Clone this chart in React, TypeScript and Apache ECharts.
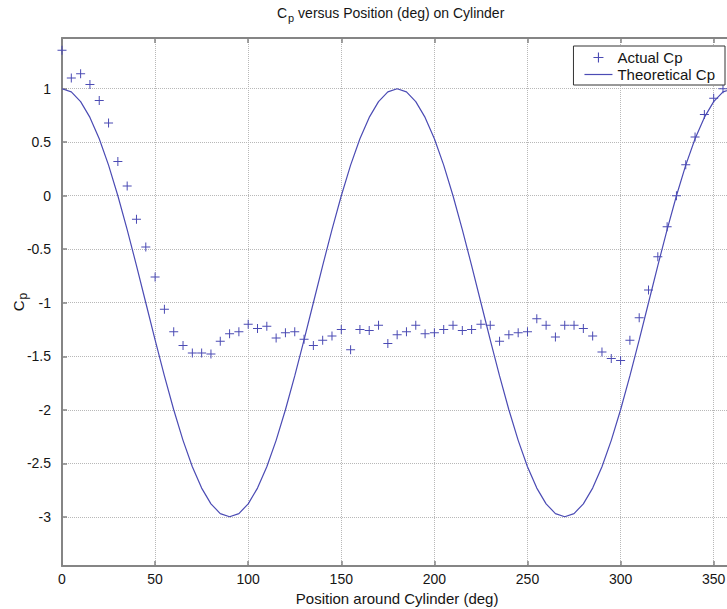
import { useEffect, useRef } from "react";
import * as echarts from "echarts";

// Position around the cylinder (deg)
const anglesDeg = [
  0, 5, 10, 15, 20, 25, 30, 35, 40, 45, 50, 55, 60, 65, 70, 75, 80, 85, 90,
  95, 100, 105, 110, 115, 120, 125, 130, 135, 140, 145, 150, 155, 160, 165, 170, 175, 180,
  185, 190, 195, 200, 205, 210, 215, 220, 225, 230, 235, 240, 245, 250, 255, 260, 265, 270,
  275, 280, 285, 290, 295, 300, 305, 310, 315, 320, 325, 330, 335, 340, 345, 350, 355, 360,
];

const actualCp = [
  1.36, 1.1, 1.14, 1.04, 0.89, 0.68, 0.32, 0.09, -0.22, -0.48, -0.76, -1.06, -1.27, -1.4,
  -1.47, -1.47, -1.48, -1.36, -1.29, -1.27, -1.2, -1.24, -1.22, -1.33, -1.28, -1.27, -1.34,
  -1.4, -1.35, -1.31, -1.25, -1.44, -1.25, -1.26, -1.21, -1.38, -1.3, -1.27, -1.21, -1.29,
  -1.28, -1.25, -1.21, -1.26, -1.25, -1.2, -1.21, -1.36, -1.3, -1.28, -1.27, -1.15, -1.21,
  -1.32, -1.21, -1.21, -1.24, -1.31, -1.46, -1.52, -1.54, -1.35, -1.14, -0.88, -0.57, -0.29,
  0.0, 0.29, 0.55, 0.76, 0.91, 1.0,
];

// Theoretical pressure coefficient
const theoreticalCp = [
  1, 0.97, 0.879, 0.732, 0.532, 0.286, 0, -0.316, -0.653, -1, -1.347, -1.684, -2, -2.286,
  -2.532, -2.732, -2.879, -2.97, -3, -2.97, -2.879, -2.732, -2.532, -2.286, -2, -1.684,
  -1.347, -1, -0.653, -0.316, 0, 0.286, 0.532, 0.732, 0.879, 0.97, 1,
  0.97, 0.879, 0.732, 0.532, 0.286, 0, -0.316, -0.653, -1, -1.347, -1.684, -2, -2.286,
  -2.532, -2.732, -2.879, -2.97, -3, -2.97, -2.879, -2.732, -2.532, -2.286, -2, -1.684,
  -1.347, -1, -0.653, -0.316, 0, 0.286, 0.532, 0.732, 0.879, 0.97, 1,
];

const seriesNames = ["Actual Cp", "Theoretical Cp"];

const FONT = "'Liberation Sans', Arial, Helvetica, sans-serif";
const BLUE = "#4b4bb4";
const AXIS_GRAY = "#858585";
const GRID_GRAY = "#b8b8b8";
const TEXT = "#151515";
const PLUS = "path://M4,0H5V4H9V5H5V9H4V5H0V4H4Z";
const LINE_ICON = "path://M0,0H28V1.2H0Z";

function subRich(size: number, subSize: number, pad: number) {
  return {
    c: {
      fontSize: size,
      fontFamily: FONT,
      fontWeight: "normal",
      color: TEXT,
      verticalAlign: "top",
      lineHeight: size + 2,
    },
    s: {
      fontSize: subSize,
      fontFamily: FONT,
      fontWeight: "normal",
      color: TEXT,
      verticalAlign: "top",
      lineHeight: subSize + 2,
      padding: [pad, 0, 0, 1],
    },
  };
}

export default function App() {
  const ref = useRef<HTMLDivElement>(null);
  useEffect(() => {
    const chart = echarts.init(ref.current!, null, { renderer: "svg" });
    const option: any = {
      animation: false,
      backgroundColor: "#ffffff",
      textStyle: { fontFamily: FONT },
      title: {
        text: "{c|C}{s|p}{c| versus Position (deg) on Cylinder}",
        left: 277,
        top: 6,
        padding: 0,
        textStyle: { fontWeight: "normal", rich: subRich(14, 11, 6) },
      },
      legend: {
        data: [
          { name: seriesNames[0], icon: PLUS },
          { name: seriesNames[1], icon: LINE_ICON },
        ],
        orient: "vertical",
        right: 2,
        top: 46,
        itemWidth: 28,
        itemHeight: 10,
        itemGap: 0,
        padding: [3, 10, 2, 11],
        backgroundColor: "#ffffff",
        borderColor: "#333333",
        borderWidth: 1,
        borderRadius: 0,
        selectedMode: false,
        textStyle: { fontSize: 15, color: TEXT, lineHeight: 17, fontFamily: FONT },
      },
      grid: { left: 62, top: 38, right: -5.3, bottom: 43, outerBoundsMode: "none" },
      xAxis: [
        {
          type: "value",
          position: "bottom",
          min: 0,
          max: 360,
          interval: 50,
          name: "Position around Cylinder (deg)",
          nameLocation: "middle",
          nameGap: 25,
          nameMoveOverlap: false,
          nameTextStyle: { fontSize: 15, color: TEXT, fontFamily: FONT },
          axisLine: { show: true, onZero: false, lineStyle: { color: AXIS_GRAY, width: 2 } },
          axisTick: { show: true, inside: true, length: 5, lineStyle: { color: AXIS_GRAY, width: 1.5 } },
          axisLabel: { fontSize: 14, color: TEXT, margin: 6, showMaxLabel: false, fontFamily: FONT },
          splitLine: { show: true, lineStyle: { type: "dotted", color: GRID_GRAY, width: 1 } },
        },
        {
          type: "value",
          position: "top",
          min: 0,
          max: 360,
          interval: 50,
          axisLine: { show: true, onZero: false, lineStyle: { color: AXIS_GRAY, width: 2 } },
          axisTick: { show: true, inside: true, length: 5, lineStyle: { color: AXIS_GRAY, width: 1.5 } },
          axisLabel: { show: false },
          splitLine: { show: false },
        },
      ],
      yAxis: {
        type: "value",
        position: "left",
        min: -3.46,
        max: 1.474,
        splitNumber: 10,
        minInterval: 0.5,
        maxInterval: 0.5,
        name: "{c|C}{s|p}",
        nameLocation: "middle",
        nameRotate: 90,
        nameGap: 34,
        nameMoveOverlap: false,
        nameTextStyle: { rich: subRich(15, 12, 6) },
        axisLine: { show: true, onZero: false, lineStyle: { color: AXIS_GRAY, width: 2 } },
        axisTick: { show: true, inside: true, length: 5, lineStyle: { color: AXIS_GRAY, width: 1.5 } },
        axisLabel: {
          fontSize: 14,
          color: TEXT,
          margin: 11,
          showMinLabel: false,
          showMaxLabel: false,
          fontFamily: FONT,
        },
        splitLine: { show: true, lineStyle: { type: "dotted", color: GRID_GRAY, width: 1 } },
      },
      series: [
        {
          name: seriesNames[0],
          type: "scatter",
          xAxisIndex: 0,
          data: actualCp.map((v, i) => [anglesDeg[i], v]),
          symbol: PLUS,
          symbolSize: 9,
          itemStyle: { color: BLUE, opacity: 1 },
          z: 3,
        },
        {
          name: seriesNames[1],
          type: "line",
          xAxisIndex: 0,
          data: theoreticalCp.map((v, i) => [anglesDeg[i], v]),
          symbol: "none",
          showSymbol: false,
          lineStyle: { color: BLUE, width: 1.2 },
          itemStyle: { color: BLUE },
          z: 2,
        },
      ],
    };
    chart.setOption(option);
    return () => chart.dispose();
  }, []);
  return (
    <div
      ref={ref}
      style={{ position: "fixed", left: 0, top: 0, width: 727, height: 609, background: "#fff" }}
    />
  );
}
